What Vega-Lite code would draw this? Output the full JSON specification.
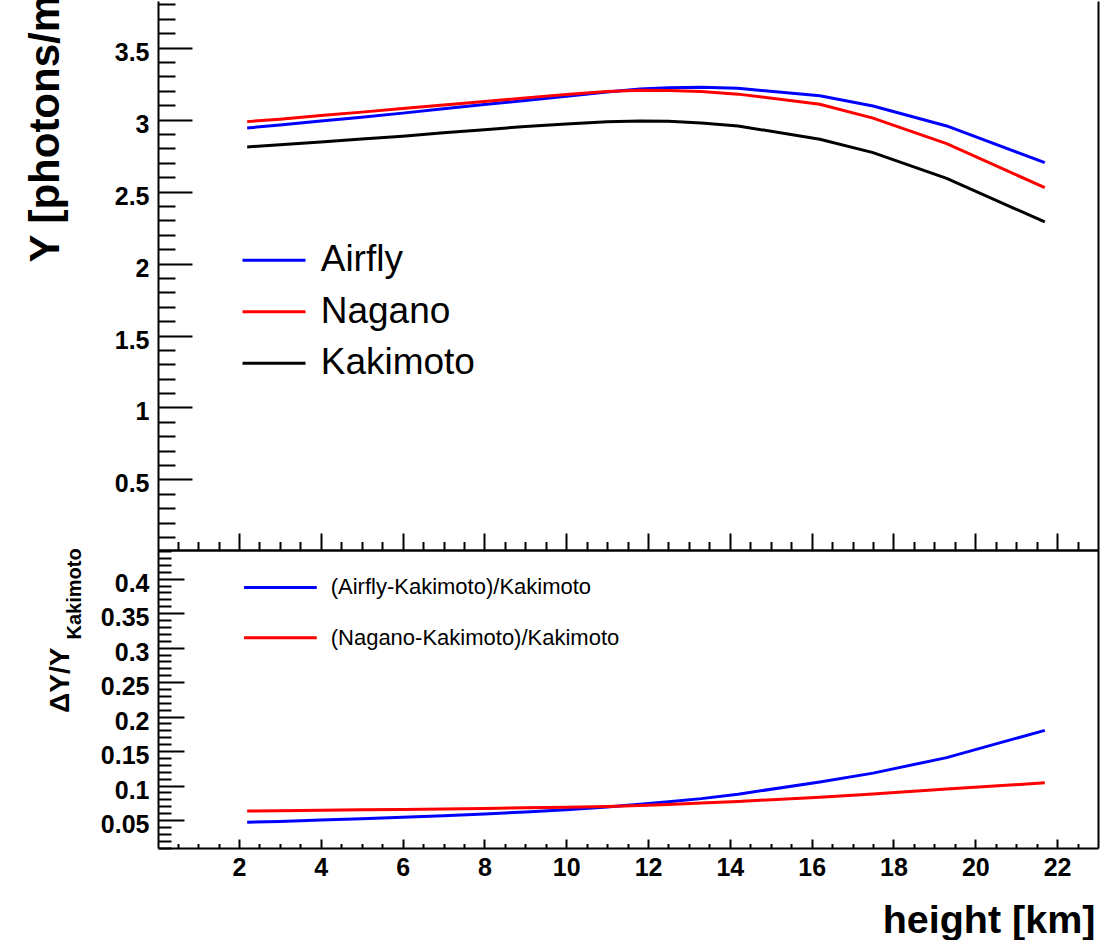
{
  "$schema": "https://vega.github.io/schema/vega-lite/v6.json",
  "background": "white",
  "padding": {"left": 24, "top": -21, "right": 5, "bottom": 0},
  "autosize": {"type": "pad"},
  "bounds": "flush",
  "spacing": 0,
  "datasets": {
    "yields": [
      {"h": 2.2, "model": "Airfly", "Y": 2.942}, {"h": 2.2, "model": "Nagano", "Y": 2.986}, {"h": 2.2, "model": "Kakimoto", "Y": 2.810},
      {"h": 3, "model": "Airfly", "Y": 2.962}, {"h": 3, "model": "Nagano", "Y": 3.003}, {"h": 3, "model": "Kakimoto", "Y": 2.826},
      {"h": 4, "model": "Airfly", "Y": 2.990}, {"h": 4, "model": "Nagano", "Y": 3.028}, {"h": 4, "model": "Kakimoto", "Y": 2.845},
      {"h": 5, "model": "Airfly", "Y": 3.017}, {"h": 5, "model": "Nagano", "Y": 3.052}, {"h": 5, "model": "Kakimoto", "Y": 2.865},
      {"h": 6, "model": "Airfly", "Y": 3.045}, {"h": 6, "model": "Nagano", "Y": 3.077}, {"h": 6, "model": "Kakimoto", "Y": 2.885},
      {"h": 7, "model": "Airfly", "Y": 3.076}, {"h": 7, "model": "Nagano", "Y": 3.101}, {"h": 7, "model": "Kakimoto", "Y": 2.908},
      {"h": 8, "model": "Airfly", "Y": 3.105}, {"h": 8, "model": "Nagano", "Y": 3.126}, {"h": 8, "model": "Kakimoto", "Y": 2.930},
      {"h": 9, "model": "Airfly", "Y": 3.133}, {"h": 9, "model": "Nagano", "Y": 3.151}, {"h": 9, "model": "Kakimoto", "Y": 2.952},
      {"h": 10, "model": "Airfly", "Y": 3.163}, {"h": 10, "model": "Nagano", "Y": 3.175}, {"h": 10, "model": "Kakimoto", "Y": 2.970},
      {"h": 11, "model": "Airfly", "Y": 3.192}, {"h": 11, "model": "Nagano", "Y": 3.196}, {"h": 11, "model": "Kakimoto", "Y": 2.985},
      {"h": 11.8, "model": "Airfly", "Y": 3.213}, {"h": 11.8, "model": "Nagano", "Y": 3.204}, {"h": 11.8, "model": "Kakimoto", "Y": 2.991},
      {"h": 12.5, "model": "Airfly", "Y": 3.222}, {"h": 12.5, "model": "Nagano", "Y": 3.203}, {"h": 12.5, "model": "Kakimoto", "Y": 2.989},
      {"h": 13.3, "model": "Airfly", "Y": 3.224}, {"h": 13.3, "model": "Nagano", "Y": 3.195}, {"h": 13.3, "model": "Kakimoto", "Y": 2.976},
      {"h": 14.2, "model": "Airfly", "Y": 3.218}, {"h": 14.2, "model": "Nagano", "Y": 3.177}, {"h": 14.2, "model": "Kakimoto", "Y": 2.956},
      {"h": 16.2, "model": "Airfly", "Y": 3.165}, {"h": 16.2, "model": "Nagano", "Y": 3.107}, {"h": 16.2, "model": "Kakimoto", "Y": 2.864},
      {"h": 17.5, "model": "Airfly", "Y": 3.095}, {"h": 17.5, "model": "Nagano", "Y": 3.010}, {"h": 17.5, "model": "Kakimoto", "Y": 2.771},
      {"h": 19.3, "model": "Airfly", "Y": 2.956}, {"h": 19.3, "model": "Nagano", "Y": 2.833}, {"h": 19.3, "model": "Kakimoto", "Y": 2.592},
      {"h": 21.7, "model": "Airfly", "Y": 2.701}, {"h": 21.7, "model": "Nagano", "Y": 2.527}, {"h": 21.7, "model": "Kakimoto", "Y": 2.289}
    ],
    "ratios": [
      {"h": 2.2, "series": "(Airfly-Kakimoto)/Kakimoto", "r": 0.0467}, {"h": 2.2, "series": "(Nagano-Kakimoto)/Kakimoto", "r": 0.063},
      {"h": 3, "series": "(Airfly-Kakimoto)/Kakimoto", "r": 0.048}, {"h": 3, "series": "(Nagano-Kakimoto)/Kakimoto", "r": 0.0635},
      {"h": 4, "series": "(Airfly-Kakimoto)/Kakimoto", "r": 0.050}, {"h": 4, "series": "(Nagano-Kakimoto)/Kakimoto", "r": 0.0642},
      {"h": 5, "series": "(Airfly-Kakimoto)/Kakimoto", "r": 0.052}, {"h": 5, "series": "(Nagano-Kakimoto)/Kakimoto", "r": 0.0648},
      {"h": 6, "series": "(Airfly-Kakimoto)/Kakimoto", "r": 0.054}, {"h": 6, "series": "(Nagano-Kakimoto)/Kakimoto", "r": 0.0654},
      {"h": 7, "series": "(Airfly-Kakimoto)/Kakimoto", "r": 0.056}, {"h": 7, "series": "(Nagano-Kakimoto)/Kakimoto", "r": 0.0661},
      {"h": 8, "series": "(Airfly-Kakimoto)/Kakimoto", "r": 0.0588}, {"h": 8, "series": "(Nagano-Kakimoto)/Kakimoto", "r": 0.0668},
      {"h": 9, "series": "(Airfly-Kakimoto)/Kakimoto", "r": 0.0615}, {"h": 9, "series": "(Nagano-Kakimoto)/Kakimoto", "r": 0.0677},
      {"h": 10, "series": "(Airfly-Kakimoto)/Kakimoto", "r": 0.065}, {"h": 10, "series": "(Nagano-Kakimoto)/Kakimoto", "r": 0.0686},
      {"h": 11, "series": "(Airfly-Kakimoto)/Kakimoto", "r": 0.069}, {"h": 11, "series": "(Nagano-Kakimoto)/Kakimoto", "r": 0.0697},
      {"h": 11.8, "series": "(Airfly-Kakimoto)/Kakimoto", "r": 0.0728}, {"h": 11.8, "series": "(Nagano-Kakimoto)/Kakimoto", "r": 0.0712},
      {"h": 12.5, "series": "(Airfly-Kakimoto)/Kakimoto", "r": 0.0765}, {"h": 12.5, "series": "(Nagano-Kakimoto)/Kakimoto", "r": 0.0725},
      {"h": 13.3, "series": "(Airfly-Kakimoto)/Kakimoto", "r": 0.081}, {"h": 13.3, "series": "(Nagano-Kakimoto)/Kakimoto", "r": 0.0745},
      {"h": 14.2, "series": "(Airfly-Kakimoto)/Kakimoto", "r": 0.0875}, {"h": 14.2, "series": "(Nagano-Kakimoto)/Kakimoto", "r": 0.077},
      {"h": 16.2, "series": "(Airfly-Kakimoto)/Kakimoto", "r": 0.105}, {"h": 16.2, "series": "(Nagano-Kakimoto)/Kakimoto", "r": 0.083},
      {"h": 17.5, "series": "(Airfly-Kakimoto)/Kakimoto", "r": 0.118}, {"h": 17.5, "series": "(Nagano-Kakimoto)/Kakimoto", "r": 0.0877},
      {"h": 19.3, "series": "(Airfly-Kakimoto)/Kakimoto", "r": 0.1405}, {"h": 19.3, "series": "(Nagano-Kakimoto)/Kakimoto", "r": 0.0948},
      {"h": 21.7, "series": "(Airfly-Kakimoto)/Kakimoto", "r": 0.18}, {"h": 21.7, "series": "(Nagano-Kakimoto)/Kakimoto", "r": 0.104}
    ]
  },
  "vconcat": [
    {
      "width": 940,
      "height": 549,
      "data": {"name": "yields"},
      "layer": [
        {
          "mark": {"type": "line", "strokeWidth": 3},
          "encoding": {
            "x": {"field": "h", "type": "quantitative", "scale": {"domain": [0.02, 23.0], "nice": false, "zero": false},
              "axis": {"orient": "bottom", "values": [2, 4, 6, 8, 10, 12, 14, 16, 18, 20, 22], "labels": false, "ticks": true, "tickSize": -17, "domain": true, "title": null}},
            "y": {"field": "Y", "type": "quantitative", "scale": {"domain": [0.01, 3.824], "nice": false, "zero": false},
              "axis": {"orient": "left", "values": [0.5, 1, 1.5, 2, 2.5, 3, 3.5], "ticks": false, "domain": true, "format": "~g", "labelPadding": 9, "labelOffset": 4.5,
                "title": "Y [photons/m]", "titleFontSize": 42, "titleAngle": 270, "titleAlign": "left", "titleBaseline": "alphabetic", "titleX": -99.3, "titleY": 261}},
            "color": {"field": "model", "type": "nominal",
              "scale": {"domain": ["Airfly", "Nagano", "Kakimoto"], "range": ["#0000ff", "#ff0000", "#000000"]},
              "legend": {"orient": "none", "legendX": 83, "legendY": 226.3, "title": null, "symbolType": "stroke", "symbolSize": 3969, "symbolStrokeWidth": 3,
                "labelFontSize": 37, "labelOffset": 13.7, "labelLimit": 0, "rowPadding": 0.5, "padding": 0, "symbolOffset": 0}}
          }
        },
        {
          "mark": {"type": "point", "opacity": 0},
          "encoding": {
            "x": {"field": "h", "type": "quantitative", "axis": {"orient": "bottom", "values": [0.5, 1, 1.5, 2.5, 3, 3.5, 4.5, 5, 5.5, 6.5, 7, 7.5, 8.5, 9, 9.5, 10.5, 11, 11.5, 12.5, 13, 13.5, 14.5, 15, 15.5, 16.5, 17, 17.5, 18.5, 19, 19.5, 20.5, 21, 21.5, 22.5], "labels": false, "tickSize": -8.5, "domain": false, "title": null}},
            "y": {"field": "Y", "type": "quantitative", "axis": {"orient": "left", "values": [0.5, 1, 1.5, 2, 2.5, 3, 3.5], "labels": false, "tickSize": -34, "domain": false, "title": null}}
          }
        },
        {
          "mark": {"type": "point", "opacity": 0},
          "encoding": {
            "x": {"field": "h", "type": "quantitative", "axis": null},
            "y": {"field": "Y", "type": "quantitative", "axis": {"orient": "left", "values": [0.1, 0.2, 0.3, 0.4, 0.6, 0.7, 0.8, 0.9, 1.1, 1.2, 1.3, 1.4, 1.6, 1.7, 1.8, 1.9, 2.1, 2.2, 2.3, 2.4, 2.6, 2.7, 2.8, 2.9, 3.1, 3.2, 3.3, 3.4, 3.6, 3.7, 3.8], "labels": false, "tickSize": -17, "domain": false, "title": null}}
          }
        },
        {
          "mark": {"type": "point", "opacity": 0},
          "encoding": {
            "x": {"field": "h", "type": "quantitative", "axis": null},
            "y": {"field": "Y", "type": "quantitative", "axis": {"orient": "right", "labels": false, "ticks": false, "domain": true, "title": null}}
          }
        }
      ],
      "resolve": {"axis": {"x": "independent", "y": "independent"}}
    },
    {
      "width": 940,
      "height": 298,
      "data": {"name": "ratios"},
      "layer": [
        {
          "mark": {"type": "line", "strokeWidth": 3},
          "encoding": {
            "x": {"field": "h", "type": "quantitative", "scale": {"domain": [0.02, 23.0], "nice": false, "zero": false},
              "axis": {"orient": "bottom", "values": [2, 4, 6, 8, 10, 12, 14, 16, 18, 20, 22], "format": "~g", "ticks": false, "domain": true, "labelPadding": 7.5,
                "title": "height [km]", "titleFontSize": 39.5, "titleAlign": "right", "titleBaseline": "alphabetic", "titleX": 937, "titleY": 84.4}},
            "y": {"field": "r", "type": "quantitative", "scale": {"domain": [0.0094, 0.4416], "nice": false, "zero": false},
              "axis": {"orient": "left", "values": [0.05, 0.1, 0.15, 0.2, 0.25, 0.3, 0.35, 0.4], "format": "~g", "ticks": false, "domain": true, "labelPadding": 9, "labelOffset": 4.5,
                "title": "ΔY/Y", "titleFontSize": 28, "titleAngle": 270, "titleAlign": "left", "titleBaseline": "alphabetic", "titleX": -89.3, "titleY": 162.4}},
            "color": {"field": "series", "type": "nominal",
              "scale": {"domain": ["(Airfly-Kakimoto)/Kakimoto", "(Nagano-Kakimoto)/Kakimoto"], "range": ["#0000ff", "#ff0000"]},
              "legend": {"orient": "none", "legendX": 84.4, "legendY": -0.6, "title": null, "symbolType": "stroke", "symbolSize": 5285, "symbolStrokeWidth": 3,
                "labelFontSize": 22, "labelOffset": 12.3, "labelLimit": 0, "rowPadding": 1.3, "padding": 0, "symbolOffset": 0}}
          }
        },
        {
          "mark": {"type": "point", "opacity": 0},
          "encoding": {
            "x": {"field": "h", "type": "quantitative", "axis": {"orient": "bottom", "values": [2, 4, 6, 8, 10, 12, 14, 16, 18, 20, 22], "labels": false, "tickSize": -9, "domain": false, "title": null}},
            "y": {"field": "r", "type": "quantitative", "axis": {"orient": "left", "values": [0.05, 0.1, 0.15, 0.2, 0.25, 0.3, 0.35, 0.4], "labels": false, "tickSize": -26, "domain": false,
              "title": "Kakimoto", "titleFontSize": 20, "titleAngle": 270, "titleAlign": "left", "titleBaseline": "alphabetic", "titleX": -77.3, "titleY": 89}}
          }
        },
        {
          "mark": {"type": "point", "opacity": 0},
          "encoding": {
            "x": {"field": "h", "type": "quantitative", "axis": {"orient": "bottom", "values": [0.5, 1, 1.5, 2.5, 3, 3.5, 4.5, 5, 5.5, 6.5, 7, 7.5, 8.5, 9, 9.5, 10.5, 11, 11.5, 12.5, 13, 13.5, 14.5, 15, 15.5, 16.5, 17, 17.5, 18.5, 19, 19.5, 20.5, 21, 21.5, 22.5], "labels": false, "tickSize": -4.5, "domain": false, "title": null}},
            "y": {"field": "r", "type": "quantitative", "axis": {"orient": "left", "values": [0.01, 0.02, 0.03, 0.04, 0.06, 0.07, 0.08, 0.09, 0.11, 0.12, 0.13, 0.14, 0.16, 0.17, 0.18, 0.19, 0.21, 0.22, 0.23, 0.24, 0.26, 0.27, 0.28, 0.29, 0.31, 0.32, 0.33, 0.34, 0.36, 0.37, 0.38, 0.39, 0.41, 0.42, 0.43, 0.44], "labels": false, "tickSize": -13, "domain": false, "title": null}}
          }
        },
        {
          "mark": {"type": "point", "opacity": 0},
          "encoding": {
            "x": {"field": "h", "type": "quantitative", "axis": {"orient": "top", "labels": false, "ticks": false, "domain": true, "title": null}},
            "y": {"field": "r", "type": "quantitative", "axis": {"orient": "right", "labels": false, "ticks": false, "domain": true, "title": null}}
          }
        }
      ],
      "resolve": {"axis": {"x": "independent", "y": "independent"}}
    }
  ],
  "resolve": {"scale": {"color": "independent"}, "legend": {"color": "independent"}},
  "config": {
    "view": {"stroke": null},
    "axis": {
      "grid": false,
      "domainColor": "#000000",
      "domainWidth": 2,
      "tickColor": "#000000",
      "tickWidth": 2,
      "labelFont": "Liberation Sans",
      "labelFontWeight": "bold",
      "labelFontSize": 25,
      "labelColor": "#000000",
      "labelOverlap": false,
      "labelFlush": false,
      "titleFont": "Liberation Sans",
      "titleFontWeight": "bold",
      "titleColor": "#000000"
    },
    "legend": {
      "labelFont": "Liberation Sans",
      "labelColor": "#000000"
    }
  }
}
